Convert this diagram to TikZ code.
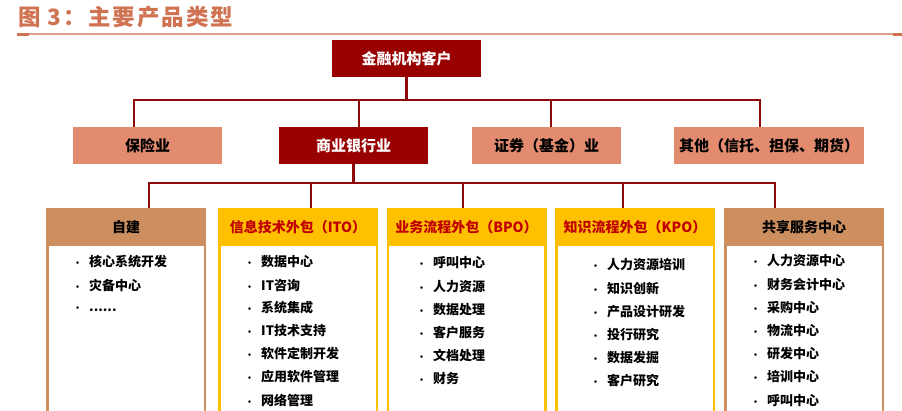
\documentclass[tikz,border=0pt]{standalone}
\usepackage{fontspec}
\setmainfont{Noto Sans CJK SC}
\usepackage{tikz}
\usetikzlibrary{positioning}
\definecolor{bankred}{HTML}{990000}
\definecolor{linkred}{HTML}{8E0A0A}
\definecolor{salmon}{HTML}{E38B6F}
\definecolor{tan}{HTML}{CD8F5F}
\definecolor{gold}{HTML}{FFC000}
\definecolor{headred}{HTML}{C00000}
\definecolor{titlecol}{HTML}{CF7352}
\definecolor{rulecol}{HTML}{DDA088}
\newcommand\itembullet{\makebox[16pt][l]{\fontsize{9}{9}\selectfont •}}
\newcommand\moredots{......}

\begin{document}
\begin{tikzpicture}[x=1pt,y=-1pt,
  client/.style={fill=bankred,text=white,minimum width=149pt,minimum height=37pt,inner sep=0pt,
    font=\fontsize{15}{15}\selectfont\bfseries},
  sector/.style={fill=salmon,minimum height=37pt,inner sep=0pt,
    font=\fontsize{15}{15}\selectfont\bfseries},
  link/.style={draw=linkred,line width=2.4pt},
  column/.style={draw=#1,line width=2.5pt,fill=white,minimum width=157.5pt,
    minimum height=240pt,anchor=north,inner sep=0pt},
  head/.style={fill=#1,minimum width=160pt,minimum height=37.5pt,anchor=north,inner sep=0pt,
    font=\fontsize{14}{14}\selectfont\bfseries},
  item/.style={anchor=west,inner sep=0pt,font=\fontsize{13}{13}\selectfont\bfseries}]
\clip (0,0) rectangle (902,410);

% title
\node[anchor=west,inner sep=0pt,text=titlecol,font=\fontsize{22.5}{23}\selectfont\bfseries\addfontfeature{LetterSpace=9}] (title) at (18,17) {图 3：主要产品类型};
\draw[rulecol,line width=1.2pt] (17,34) -- (902,34);
\draw[titlecol,line width=2.4pt] (17,34.6) -- (29,34.6);
\draw[titlecol,line width=2.4pt] (893,34.6) -- (902,34.6);

% clients and sectors
\node[client] (client) at (406.5,58.5) {金融机构客户};
\node[sector,minimum width=149pt] (ins) at (147.5,145.5) {保险业};
\node[client] (bank) at (353.5,145.5) {商业银行业};
\node[sector,minimum width=149pt] (sec) at (546.5,145.5) {证券（基金）业};
\node[sector,minimum width=190pt] (other) at (769,145.5) {其他（信托、担保、期货）};

\draw[link] ([xshift=-13.5pt]ins.north) -- ++(0,-27) -| (client.south);
\draw[link] ([xshift=5.5pt]bank.north) -- ++(0,-27) -| (client.south);
\draw[link] ([xshift=4.5pt]sec.north) -- ++(0,-27) -| (client.south);
\draw[link] ([xshift=-9pt]other.north) -- ++(0,-27) -| (client.south);

% service columns
\node[column=tan] (zjbox) at (126,209.25) {};
\node[head=tan] (zj) at (126,208) {自建};
\node[column=gold] (itobox) at (298,209.25) {};
\node[head=gold,text=headred] (ito) at (298,208) {信息技术外包（ITO）};
\node[column=gold] (bpobox) at (466.5,209.25) {};
\node[head=gold,text=headred] (bpo) at (466.5,208) {业务流程外包（BPO）};
\node[column=gold] (kpobox) at (635,209.25) {};
\node[head=gold,text=headred] (kpo) at (635,208) {知识流程外包（KPO）};
\node[column=tan] (ssbox) at (804,209.25) {};
\node[head=tan] (ss) at (804,208) {共享服务中心};

\draw[link] ([xshift=23pt]zj.north) -- ++(0,-25) -| (bank.south);
\draw[link] ([xshift=13pt]ito.north) -- ++(0,-25) -| (bank.south);
\draw[link] ([xshift=-3.5pt]bpo.north) -- ++(0,-25) -| (bank.south);
\draw[link] ([xshift=-12pt]kpo.north) -- ++(0,-25) -| (bank.south);
\draw[link] ([xshift=-29pt]ss.north) -- ++(0,-25) -| (bank.south);

% items
\foreach \t [count=\i] in {核心系统开发,灾备中心,\moredots}
  \node[item] (zj-\i) at (73,{262+23.8*(\i-1)}) {\itembullet\t};
\foreach \t [count=\i] in {数据中心,IT咨询,系统集成,IT技术支持,软件定制开发,应用软件管理,网络管理}
  \node[item] (ito-\i) at (245,{262+23*(\i-1)}) {\itembullet\t};
\foreach \t [count=\i] in {呼叫中心,人力资源,数据处理,客户服务,文档处理,财务}
  \node[item] (bpo-\i) at (417,{263+23.2*(\i-1)}) {\itembullet\t};
\foreach \t [count=\i] in {人力资源培训,知识创新,产品设计研发,投行研究,数据发掘,客户研究}
  \node[item] (kpo-\i) at (591,{265+23.2*(\i-1)}) {\itembullet\t};
\foreach \t [count=\i] in {人力资源中心,财务会计中心,采购中心,物流中心,研发中心,培训中心,呼叫中心}
  \node[item] (ss-\i) at (751,{261+23.2*(\i-1)}) {\itembullet\t};
\end{tikzpicture}
\end{document}
